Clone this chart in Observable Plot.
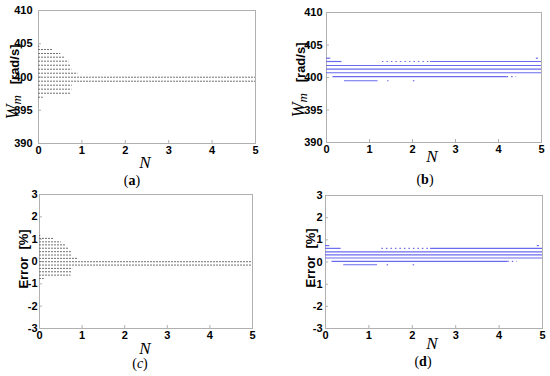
<!DOCTYPE html>
<html>
<head>
<meta charset="utf-8">
<script src="https://cdn.jsdelivr.net/npm/d3@7"></script>
<script src="https://cdn.jsdelivr.net/npm/@observablehq/plot@0.6"></script>
<style>
  html, body { margin: 0; padding: 0; background: #fff; }
  #root { position: relative; width: 550px; height: 376px; overflow: hidden; }
  .pane { position: absolute; }
  .lab { position: absolute; white-space: nowrap; transform: translate(-50%, -50%); color: #000; line-height: 1; }
  .ylab { transform: translate(-50%, -50%) rotate(-90deg); font-family: "Liberation Sans", Arial, sans-serif; font-weight: bold; font-size: 13px; line-height: 13px; }
  .ylab .w { font-family: "Liberation Serif", "Times New Roman", serif; font-style: italic; font-weight: normal; font-size: 18px; }
  .ylab .w sub { font-size: 13px; vertical-align: -2px; line-height: 0; }
  .nlab { font-family: "Liberation Serif", "Times New Roman", serif; font-style: italic; font-size: 17px; }
  .cap { font-family: "Liberation Serif", "Times New Roman", serif; font-size: 14px; }
</style>
</head>
<body>
<div id="root"></div>
<script>
// ---------- data ----------
const xTicks = [0, 1, 2, 3, 4, 5];
const speedTicks = [390, 395, 400, 405, 410];
const errorTicks = [-3, -2, -1, 0, 1, 2, 3];

// (a) speed levels [rad/s] and where each stops on N
const levelsA  = [404.63, 404.14, 403.53, 402.98, 402.38, 401.77, 401.17, 400.57, 399.97, 399.37, 398.77, 398.17, 397.56, 396.96];
const lengthsA = [0.03, 0.34, 0.51, 0.61, 0.70, 0.75, 0.77, 0.91, 5, 5, 0.78, 0.77, 0.74, 0.11];

// (c) error levels [%]
const levelsC  = [1.16, 1.035, 0.88, 0.745, 0.595, 0.44, 0.29, 0.14, -0.01, -0.16, -0.31, -0.46, -0.61, -0.76];
const lengthsC = [0.03, 0.34, 0.51, 0.61, 0.70, 0.75, 0.77, 0.91, 5, 5, 0.78, 0.77, 0.74, 0.11];

// (b) speed segments (solid)
const levelsB = [402.97, 402.97, 402.46, 402.46, 401.85, 401.30, 400.73, 400.12, 399.50];
const startsB = [0, 4.88, 0, 2.42, 0, 0, 0, 0.15, 0.42];
const endsB   = [0.10, 4.93, 0.36, 5, 5, 5, 5, 4.2, 1.2];
// (b) sparse (dotted) segments
const levelsBd = [402.46, 400.12, 399.50, 399.50];
const startsBd = [1.30, 4.2, 1.42, 2.02];
const endsBd   = [2.42, 4.42, 1.47, 2.07];

// (d) error segments (solid)
const levelsD = [0.74, 0.74, 0.615, 0.615, 0.46, 0.325, 0.18, 0.03, -0.125];
const startsD = [0, 4.88, 0, 2.42, 0, 0, 0, 0.15, 0.42];
const endsD   = [0.10, 4.93, 0.36, 5, 5, 5, 5, 4.2, 1.2];
const levelsDd = [0.615, 0.03, -0.125, -0.125];
const startsDd = [1.30, 4.2, 1.42, 2.02];
const endsDd   = [2.42, 4.42, 1.47, 2.07];

// ---------- helpers ----------
const rows = (lv, st, en) => lv.map((v, i) => ({v, a: st ? st[i] : 0, b: en[i]}));
const root = document.getElementById("root");

function panel({left, top, ml, mr, mt, mb, yDomain, yTicks, padY, solid, dotted, color, dash, width}) {
  const marks = [
    Plot.frame({stroke: "#b0b0b0"}),
    Plot.axisX({ticks: xTicks, tickSize: -3, tickPadding: 6, stroke: "#b0b0b0", fill: "#000", label: null, tickFormat: d => String(d)}),
    Plot.axisY({ticks: yTicks, tickSize: -3, tickPadding: padY, stroke: "#b0b0b0", fill: "#000", label: null, tickFormat: d => String(d)}),
    Plot.ruleY(solid, {y: "v", x1: "a", x2: "b", stroke: color, strokeWidth: width, strokeDasharray: dash})
  ];
  if (dotted) marks.push(Plot.ruleY(dotted, {y: "v", x1: "a", x2: "b", stroke: color, strokeWidth: width, strokeDasharray: "1.5,3"}));
  const p = Plot.plot({
    width: 275, height: 188,
    marginLeft: ml, marginRight: mr, marginTop: mt, marginBottom: mb,
    x: {domain: [0, 5]},
    y: {domain: yDomain},
    style: {fontFamily: "'Liberation Sans', Arial, sans-serif", fontSize: "11px", fontWeight: "bold", background: "transparent", color: "#000"},
    marks
  });
  const d = document.createElement("div");
  d.className = "pane";
  d.style.left = left + "px"; d.style.top = top + "px";
  d.appendChild(p);
  root.appendChild(d);
}

function label(cls, html, x, y) {
  const d = document.createElement("div");
  d.className = "lab " + cls;
  d.style.left = x + "px"; d.style.top = y + "px";
  d.innerHTML = html;
  root.appendChild(d);
}

const grey = "#707070";
const blue = "#6a6af0";

panel({left: 0, top: 0, ml: 38, mr: 20, mt: 10, mb: 45, yDomain: [390, 410], yTicks: speedTicks, padY: 9,
       solid: rows(levelsA, null, lengthsA), color: grey, dash: "2,1", width: 1});
panel({left: 275, top: 0, ml: 51, mr: 9, mt: 12, mb: 46, yDomain: [390, 410], yTicks: speedTicks, padY: 7,
       solid: rows(levelsB, startsB, endsB), dotted: rows(levelsBd, startsBd, endsBd), color: blue, dash: null, width: 1.2});
panel({left: 0, top: 188, ml: 39, mr: 23, mt: 6, mb: 48, yDomain: [-3, 3], yTicks: errorTicks, padY: 5,
       solid: rows(levelsC, null, lengthsC), color: grey, dash: "2,1", width: 1});
panel({left: 275, top: 188, ml: 50, mr: 8, mt: 7, mb: 48, yDomain: [-3, 3], yTicks: errorTicks, padY: 6,
       solid: rows(levelsD, startsD, endsD), dotted: rows(levelsDd, startsDd, endsDd), color: blue, dash: null, width: 1.2});

// axis titles
label("ylab", '<span class="w">W<sub>m</sub></span>&nbsp;&nbsp;&nbsp;[rad/s]', 14, 82);
label("ylab", '<span class="w">W<sub>m</sub></span>&nbsp;&nbsp;&nbsp;[rad/s]', 300, 80);
label("ylab", 'Error&nbsp;&nbsp;[%]', 23, 259);
label("ylab", 'Error&nbsp;&nbsp;[%]', 310, 258);

label("nlab", "N", 145, 162);
label("nlab", "N", 432, 156);
label("nlab", "N", 145, 348);
label("nlab", "N", 432, 343);

label("cap", "(<b>a</b>)", 132, 181);
label("cap", "(<b>b</b>)", 425, 180);
label("cap", "(<i>c</i>)", 140, 364);
label("cap", "(<b>d</b>)", 423, 362);
</script>
</body>
</html>
